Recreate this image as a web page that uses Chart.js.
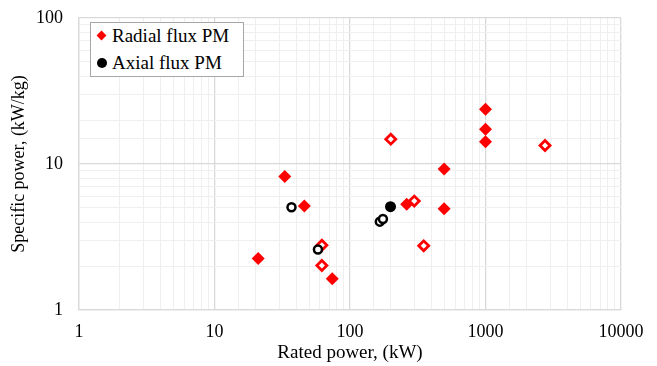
<!DOCTYPE html>
<html>
<head>
<meta charset="utf-8">
<script src="https://cdn.jsdelivr.net/npm/chart.js@4"></script>
<style>
  body { margin: 0; background: #fff; }
  #wrap { position: relative; width: 657px; height: 366px; }
  #legend {
    position: absolute; left: 90px; top: 22px; width: 152px; height: 53px;
    border: 1px solid #a6a6a6; background: #fff;
    font-family: "Liberation Serif", "Times New Roman", serif; font-size: 19px; color: #000;
  }
  .row { position: absolute; left: 0; height: 22px; line-height: 22px; white-space: nowrap; }
  .row span.txt { position: absolute; left: 21px; top: 0; }
  .dia { position: absolute; left: 7px; top: 7px; width: 7px; height: 7px; background: #ff0000; transform: rotate(45deg); }
  .dot { position: absolute; left: 6px; top: 6px; width: 10px; height: 10px; border-radius: 50%; background: #000; }
</style>
</head>
<body>
<div id="wrap">
  <canvas id="chart" width="657" height="366"></canvas>
  <div id="legend">
    <div class="row" style="top:2px"><i class="dia"></i><span class="txt">Radial flux PM</span></div>
    <div class="row" style="top:29px"><i class="dot"></i><span class="txt">Axial flux PM</span></div>
  </div>
</div>
<script>
// rated power (kW) / specific power (kW/kg)
const radialSolidX = [21, 33, 46, 74, 262, 495, 495, 1000, 1000, 1000];
const radialSolidY = [2.25, 8.2, 5.15, 1.64, 5.3, 9.25, 4.93, 23.7, 17.3, 14.2];
const radialOpenX = [200, 298, 350, 62, 62, 2750];
const radialOpenY = [14.8, 5.57, 2.75, 2.78, 2.02, 13.4];
const axialOpenX = [37, 58, 166, 175];
const axialOpenY = [5.05, 2.6, 4.03, 4.2];
const axialSolidX = [199];
const axialSolidY = [5.1];
const xTicks = [1, 10, 100, 1000, 10000];
const yTicks = [1, 10, 100];

const pts = (xs, ys) => xs.map((x, i) => ({ x: x, y: ys[i] }));
const isMajor = v => Math.abs(Math.log10(v) - Math.round(Math.log10(v))) < 1e-9;
const font = { family: "'Liberation Serif', 'Times New Roman', serif", size: 18 };
const titleFont = { family: "'Liberation Serif', 'Times New Roman', serif", size: 19 };

new Chart(document.getElementById("chart").getContext("2d"), {
  type: "scatter",
  data: {
    datasets: [
      { data: pts(axialSolidX, axialSolidY), pointStyle: "circle", pointRadius: 5.5,
        backgroundColor: "#000", borderColor: "#000", borderWidth: 0, order: 0 },
      { data: pts(axialOpenX, axialOpenY), pointStyle: "circle", pointRadius: 4,
        backgroundColor: "#fff", borderColor: "#000", borderWidth: 2.5, order: 0 },
      { data: pts(radialSolidX, radialSolidY), pointStyle: "rectRot", pointRadius: 6.5,
        backgroundColor: "#ff0000", borderColor: "#ff0000", borderWidth: 0, order: 1 },
      { data: pts(radialOpenX, radialOpenY), pointStyle: "rectRot", pointRadius: 5,
        backgroundColor: "#fff", borderColor: "#ff0000", borderWidth: 2.8, order: 1 }
    ]
  },
  options: {
    responsive: false,
    animation: false,
    layout: { padding: { left: 0, top: 18, right: 36, bottom: 0 } },
    plugins: { legend: { display: false }, tooltip: { enabled: false } },
    scales: {
      x: {
        type: "logarithmic", min: 1, max: 10000,
        afterFit: s => { s.height = 56; s.paddingLeft = 0; s.paddingRight = 0; },
        grid: { drawTicks: false, lineWidth: c => isMajor(c.tick.value) ? 1.3 : 1,
          color: c => isMajor(c.tick.value) ? "#d9d9d9" : "#efefef" },
        border: { color: "#d9d9d9", width: 1.3 },
        ticks: { autoSkip: false, maxRotation: 0, padding: 11, color: "#000", font: font,
          callback: v => xTicks.includes(v) ? String(v) : "" },
        title: { display: true, text: "Rated power, (kW)", color: "#000", font: titleFont, padding: { top: 0, bottom: 2 } }
      },
      y: {
        type: "logarithmic", min: 1, max: 100,
        afterFit: s => { s.width = 79; s.paddingTop = 0; s.paddingBottom = 0; },
        grid: { drawTicks: false, lineWidth: c => isMajor(c.tick.value) ? 1.3 : 1,
          color: c => isMajor(c.tick.value) ? "#d9d9d9" : "#efefef" },
        border: { color: "#d9d9d9", width: 1.3 },
        ticks: { autoSkip: false, padding: 16, color: "#000", font: font,
          callback: v => yTicks.includes(v) ? String(v) : "" },
        title: { display: true, text: "Specific power, (kW/kg)", color: "#000", font: font, padding: { top: 8, bottom: 0 } }
      }
    }
  }
});
</script>
</body>
</html>
